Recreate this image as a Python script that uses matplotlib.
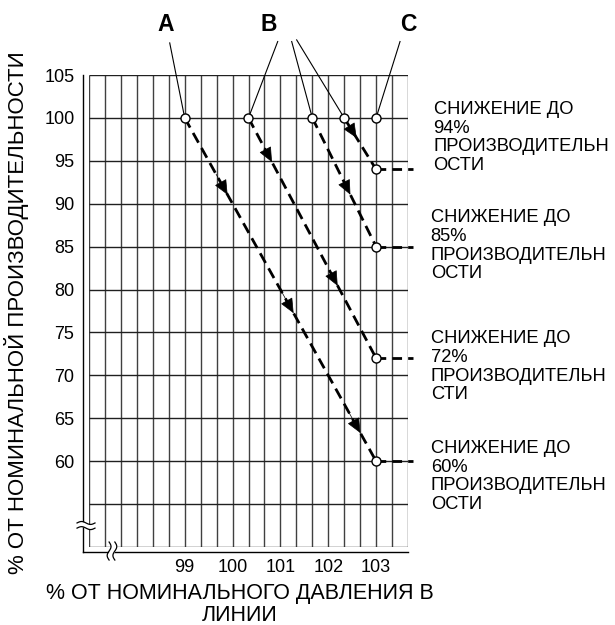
import numpy as np
import matplotlib
matplotlib.use("Agg")
import matplotlib.pyplot as plt

plt.rcParams['font.family'] = ['Liberation Sans', 'DejaVu Sans']

# ---- data ----
pressure_ticks = [99, 100, 101, 102, 103]
capacity_ticks = [60, 65, 70, 75, 80, 85, 90, 95, 100, 105]
start_pressure = [99.0, 100.333, 101.667, 102.333]   # A, B1, B2, B3
start_capacity = 100
end_pressure = 103
end_capacity = [60, 72, 85, 94]
c_point = (103, 100)
arrow_fracs = [[0.224, 0.569, 0.918], [0.184, 0.699], [0.597], [0.39]]
reduction_labels = [
    "СНИЖЕНИЕ ДО\n94%\nПРОИЗВОДИТЕЛЬН\nОСТИ",
    "СНИЖЕНИЕ ДО\n85%\nПРОИЗВОДИТЕЛЬН\nОСТИ",
    "СНИЖЕНИЕ ДО\n72%\nПРОИЗВОДИТЕЛЬН\nСТИ",
    "СНИЖЕНИЕ ДО\n60%\nПРОИЗВОДИТЕЛЬН\nОСТИ",
]
label_tops = [102.0, 89.4, 75.3, 62.5]
label_x = [104.2, 104.14, 104.14, 104.14]
letters = ["A", "B", "C"]
letter_pos = [(98.60, 110.84), (100.75, 110.84), (103.67, 110.84)]
leader_starts = {"A": [(98.687, 108.74)],
                 "B": [(100.944, 108.9), (101.236, 108.9), (101.34, 109.09)],
                 "C": [(103.5, 108.9)]}

xlab = "% ОТ НОМИНАЛЬНОГО ДАВЛЕНИЯ В\nЛИНИИ"
ylab = "% ОТ НОМИНАЛЬНОЙ ПРОИЗВОДИТЕЛЬНОСТИ"

# ---- figure ----
fig = plt.figure(figsize=(6.15, 6.25), dpi=100)
ax = fig.add_axes([89/615, 1-547/625, (408-89)/615, (547-75)/625])
x0, x1 = 97.0, 103 + 2/3
y0, y1 = 50, 105
ax.set_xlim(x0, x1)
ax.set_ylim(y0, y1)
for s in ax.spines.values():
    s.set_visible(False)

ax.vlines([x0 + k/3 for k in range(21)], y0, y1, color='#404040', lw=1.0, zorder=1)
ax.hlines(np.arange(50, 106, 5), x0, x1, color='#202020', lw=1.0, zorder=1)

ax.set_xticks(pressure_ticks)
ax.set_yticks(capacity_ticks)
ax.tick_params(length=0, labelsize=13, colors='black')
ax.tick_params(axis='y', pad=10.5)
ax.tick_params(axis='x', pad=9)

# axis lines
ax_x = 96.875
ax_y = 49.42
ax.plot([ax_x, ax_x], [y1, ax_y], color='black', lw=1.0, clip_on=False, zorder=2)
ax.plot([ax_x, x1], [ax_y, ax_y], color='black', lw=1.0, clip_on=False, zorder=2)

# break marks
t = np.linspace(0, 1, 40)
bx = 96.75 + (97.125 - 96.75) * t
ax.fill_between(bx, 52.2 + 0.17*np.sin(2*np.pi*t), 52.8 + 0.17*np.sin(2*np.pi*t),
                color='white', zorder=3, clip_on=False, lw=0)
for yy in (52.8, 52.2):
    ax.plot(bx, yy + 0.17*np.sin(2*np.pi*t), color='black', lw=0.9, clip_on=False, zorder=4)
by = 50.58 + (48.48 - 50.58) * t
ax.fill_betweenx(by, 97.42 + 0.04*np.sin(2*np.pi*t), 97.54 + 0.04*np.sin(2*np.pi*t),
                 color='white', zorder=3, clip_on=False, lw=0)
for xx in (97.42, 97.54):
    ax.plot(xx + 0.04*np.sin(2*np.pi*t), by, color='black', lw=0.9, clip_on=False, zorder=4)

# dashed lines with arrows
for sp, ec, fr in zip(start_pressure, end_capacity, arrow_fracs):
    ax.plot([sp, end_pressure], [start_capacity, ec], color='black', lw=2.0,
            dashes=(4, 2.2), zorder=5)
    ax.plot([end_pressure, x1 + 0.1], [ec, ec], color='black', lw=2.0,
            dashes=(3.5, 2.2), zorder=5, clip_on=False)
    for f in fr:
        tx = sp + f * (end_pressure - sp)
        ty = start_capacity + f * (ec - start_capacity)
        bxp = sp + (f - 0.06) * (end_pressure - sp)
        byp = start_capacity + (f - 0.06) * (ec - start_capacity)
        ax.annotate('', xy=(tx, ty), xytext=(bxp, byp),
                    arrowprops=dict(arrowstyle='-|>,head_length=0.95,head_width=0.42',
                                    color='black', lw=0.5, shrinkA=0, shrinkB=0),
                    zorder=6)

# leader lines
targets = {"A": [(start_pressure[0], start_capacity)],
           "B": [(p, start_capacity) for p in start_pressure[1:]],
           "C": [c_point]}
for key in letters:
    for (sx, sy), (tx, ty) in zip(leader_starts[key], targets[key]):
        ax.plot([sx, tx], [sy, ty], color='black', lw=0.8, clip_on=False, zorder=6)

# circles
px = start_pressure + [c_point[0]] + [end_pressure]*4
py = [start_capacity]*4 + [c_point[1]] + end_capacity
ax.plot(px, py, 'o', ms=6.5, mfc='white', mec='black', mew=1.0, zorder=7, clip_on=False)

# letters
for L, (lx, ly) in zip(letters, letter_pos):
    ax.text(lx, ly, L, fontsize=16.5, fontweight='bold', ha='center', va='center',
            clip_on=False)

# right labels
for txt, lx, ty in zip(reduction_labels, label_x, label_tops):
    ax.text(lx, ty, txt, fontsize=13.2, ha='left', va='top', linespacing=1.14,
            clip_on=False)

fig.text(240/615, 1-583/625, xlab, fontsize=15.5, ha='center', va='top',
         linespacing=1.08)
fig.text(17/615, 1-313/625, ylab, fontsize=16, rotation=90, ha='center',
         va='center')

fig.savefig("out.png", dpi=100)
